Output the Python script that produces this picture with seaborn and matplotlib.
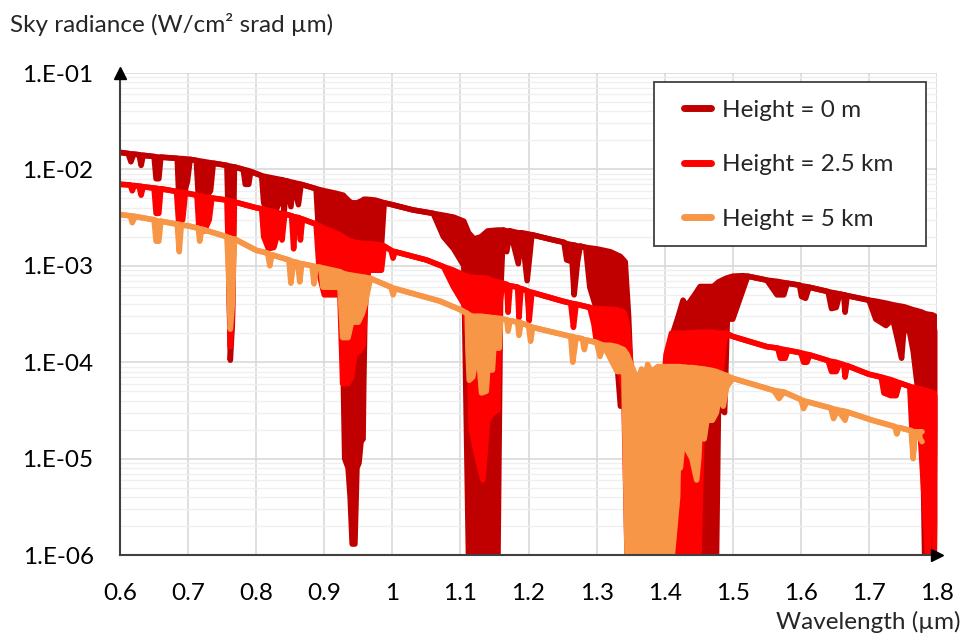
import math
import matplotlib
matplotlib.use("Agg")
import matplotlib.pyplot as plt
import seaborn as sns
from matplotlib.patches import Rectangle
from matplotlib.ticker import FixedLocator, FuncFormatter, LogLocator, NullLocator, NullFormatter

sns.set_style("white")
plt.rcParams['font.family'] = ['Lato', 'DejaVu Sans']

# sky radiance: wavelength (um), upper and lower edge of each trace
h0_wl = [0.600, 0.612, 0.616, 0.620, 0.628, 0.631, 0.634, 0.650, 0.653, 0.657, 0.660, 0.684,
         0.686, 0.694, 0.699, 0.703, 0.712, 0.715, 0.725, 0.733, 0.737, 0.757, 0.759, 0.762,
         0.765, 0.768, 0.781, 0.784, 0.789, 0.792, 0.808, 0.811, 0.818, 0.822, 0.826, 0.834,
         0.838, 0.841, 0.845, 0.851, 0.855, 0.862, 0.866, 0.888, 0.892, 0.900, 0.915, 0.924,
         0.928, 0.930, 0.935, 0.938, 0.941, 0.945, 0.948, 0.951, 0.954, 0.957, 0.958, 0.961,
         0.963, 0.975, 0.984, 0.988,
         1.000, 1.030, 1.060, 1.075, 1.090, 1.105, 1.112, 1.120, 1.130, 1.140, 1.155, 1.159,
         1.163, 1.168, 1.173, 1.185, 1.190, 1.198, 1.205, 1.230, 1.252, 1.256, 1.264, 1.267,
         1.272, 1.276, 1.284, 1.290, 1.300, 1.320, 1.330, 1.335, 1.342, 1.347, 1.352, 1.405,
         1.412, 1.420, 1.427, 1.432, 1.444, 1.452, 1.471, 1.476, 1.479, 1.488, 1.492, 1.500,
         1.515, 1.522, 1.550, 1.565, 1.575, 1.580, 1.598, 1.601, 1.607, 1.612, 1.640, 1.645,
         1.652, 1.657, 1.663, 1.665, 1.668, 1.700, 1.710, 1.725, 1.735, 1.743, 1.748, 1.752,
         1.760, 1.765, 1.772, 1.778, 1.782, 1.786, 1.793, 1.797, 1.800]
h0_top = [1.50e-2, 1.46e-2, 1.45e-2, 1.44e-2, 1.42e-2, 1.41e-2, 1.40e-2, 1.36e-2, 1.35e-2, 1.34e-2, 1.34e-2, 1.30e-2,
          1.30e-2, 1.29e-2, 1.28e-2, 1.27e-2, 1.24e-2, 1.23e-2, 1.20e-2, 1.17e-2, 1.16e-2, 1.10e-2, 1.09e-2, 1.08e-2,
          1.07e-2, 1.06e-2, 1.00e-2, 9.9e-3, 9.7e-3, 9.5e-3, 8.6e-3, 8.5e-3, 8.3e-3, 8.2e-3, 8.1e-3, 7.9e-3,
          7.8e-3, 7.7e-3, 7.6e-3, 7.4e-3, 7.3e-3, 7.1e-3, 7.0e-3, 6.3e-3, 6.2e-3, 6.0e-3, 5.7e-3, 5.5e-3,
          5.4e-3, 5.2e-3, 4.8e-3, 4.6e-3, 4.5e-3, 4.5e-3, 4.5e-3, 4.6e-3, 4.7e-3, 4.8e-3, 4.9e-3, 4.9e-3,
          4.9e-3, 4.8e-3, 4.6e-3, 4.5e-3,
          4.3e-3, 3.8e-3, 3.5e-3, 3.35e-3, 3.2e-3, 2.9e-3, 2.2e-3, 1.9e-3, 2.0e-3, 2.3e-3, 2.35e-3, 2.35e-3,
          2.35e-3, 2.3e-3, 2.3e-3, 2.2e-3, 2.2e-3, 2.15e-3, 2.1e-3, 1.9e-3, 1.75e-3, 1.7e-3, 1.65e-3, 1.65e-3,
          1.6e-3, 1.6e-3, 1.55e-3, 1.53e-3, 1.5e-3, 1.4e-3, 1.3e-3, 1.25e-3, 1.1e-3, 3.0e-4, 4.0e-5, 4.0e-5,
          2.0e-4, 3.0e-4, 4.4e-4, 3.8e-4, 5.0e-4, 6.1e-4, 6.1e-4, 6.5e-4, 6.8e-4, 7.3e-4, 7.5e-4, 7.8e-4,
          7.9e-4, 7.8e-4, 7.1e-4, 6.9e-4, 6.7e-4, 6.6e-4, 6.3e-4, 6.2e-4, 6.1e-4, 6.0e-4, 5.4e-4, 5.3e-4,
          5.2e-4, 5.1e-4, 5.0e-4, 5.0e-4, 4.9e-4, 4.4e-4, 4.3e-4, 4.1e-4, 3.95e-4, 3.85e-4, 3.8e-4, 3.75e-4,
          3.6e-4, 3.5e-4, 3.4e-4, 3.3e-4, 3.2e-4, 3.15e-4, 3.1e-4, 3.0e-4, 2.1e-4]
h0_bot = [1.50e-2, 1.46e-2, 1.20e-2, 1.44e-2, 1.42e-2, 1.10e-2, 1.40e-2, 1.36e-2, 8.0e-3, 8.0e-3, 1.34e-2, 1.30e-2,
          6.0e-3, 5.6e-3, 7.5e-3, 1.27e-2, 1.24e-2, 5.3e-3, 5.0e-3, 6.0e-3, 1.16e-2, 1.10e-2, 3.0e-3, 1.05e-4,
          2.5e-4, 1.06e-2, 1.00e-2, 7.0e-3, 7.0e-3, 9.5e-3, 8.6e-3, 4.5e-3, 3.4e-3, 1.7e-3, 3.4e-3, 4.5e-3,
          7.8e-3, 3.6e-3, 7.6e-3, 4.1e-3, 7.3e-3, 4.3e-3, 7.0e-3, 6.3e-3, 2.0e-3, 8.0e-4, 8.0e-4, 6.0e-4,
          6.5e-5, 1.0e-5, 8.0e-6, 4.0e-6, 1.3e-6, 1.3e-6, 8.0e-6, 9.0e-6, 1.5e-5, 1.6e-5, 6.0e-5, 1.0e-3,
          1.5e-3, 1.5e-3, 1.6e-3, 4.5e-3,
          4.3e-3, 3.8e-3, 3.5e-3, 2.0e-3, 1.5e-3, 1.0e-3, 8e-7, 8e-7, 8e-7, 8e-7, 8e-7, 5.0e-4,
          2.35e-3, 1.4e-3, 2.3e-3, 1.05e-3, 2.2e-3, 7.0e-4, 2.1e-3, 1.9e-3, 1.75e-3, 1.15e-3, 1.1e-3, 5.0e-4,
          1.1e-3, 1.6e-3, 1.55e-3, 6.0e-4, 3.5e-4, 2.0e-4, 1.0e-4, 3.5e-5, 3.5e-5, 8e-7, 8e-7, 8e-7,
          8e-7, 8e-7, 8e-7, 8e-7, 8e-7, 8e-7, 8e-7, 8e-7, 3.5e-5, 3.0e-5, 2.8e-4, 2.8e-4,
          5.6e-4, 7.8e-4, 7.1e-4, 5.0e-4, 5.0e-4, 6.6e-4, 6.3e-4, 4.8e-4, 4.6e-4, 6.0e-4, 5.4e-4, 3.6e-4,
          3.7e-4, 5.1e-4, 5.0e-4, 3.3e-4, 4.9e-4, 4.4e-4, 2.8e-4, 2.4e-4, 2.8e-4, 1.6e-4, 1.1e-4, 2.5e-4,
          2.0e-4, 1.3e-4, 5.0e-5, 5.0e-5, 8e-7, 5.0e-5, 8e-7, 5.0e-5, 8e-7]

h25_wl = [0.600, 0.615, 0.618, 0.621, 0.628, 0.631, 0.634, 0.650, 0.653, 0.657, 0.660, 0.683,
          0.686, 0.692, 0.696, 0.713, 0.716, 0.724, 0.731, 0.735, 0.757, 0.759, 0.762, 0.765,
          0.768, 0.800, 0.808, 0.811, 0.818, 0.826, 0.832, 0.836, 0.838, 0.842, 0.852, 0.855,
          0.858, 0.863, 0.865, 0.868, 0.888, 0.893, 0.900, 0.923, 0.927, 0.935, 0.940, 0.945,
          0.952, 0.957, 0.961, 0.965, 0.984, 0.988, 0.998, 1.001, 1.004, 1.050, 1.075, 1.090,
          1.105, 1.112, 1.116, 1.125, 1.133, 1.140, 1.148, 1.155, 1.158, 1.162, 1.168, 1.170,
          1.173, 1.184, 1.186, 1.189, 1.198, 1.201, 1.205, 1.250, 1.262, 1.266, 1.270, 1.290,
          1.296, 1.300, 1.330, 1.340, 1.345, 1.350, 1.354, 1.398, 1.402, 1.410, 1.430, 1.450,
          1.455, 1.470, 1.480, 1.487, 1.490, 1.500, 1.550, 1.566, 1.570, 1.577, 1.581, 1.600,
          1.604, 1.609, 1.613, 1.640, 1.645, 1.652, 1.657, 1.663, 1.665, 1.668, 1.700, 1.718,
          1.722, 1.732, 1.740, 1.745, 1.760, 1.765, 1.770, 1.775, 1.787, 1.792, 1.798, 1.800]
h25_top = [7.0e-3, 6.9e-3, 6.8e-3, 6.8e-3, 6.7e-3, 6.7e-3, 6.6e-3, 6.4e-3, 6.4e-3, 6.3e-3, 6.3e-3, 5.9e-3,
           5.8e-3, 5.8e-3, 5.7e-3, 5.4e-3, 5.35e-3, 5.2e-3, 5.1e-3, 5.05e-3, 4.8e-3, 4.75e-3, 4.7e-3, 4.65e-3,
           4.6e-3, 4.0e-3, 3.9e-3, 3.85e-3, 3.75e-3, 3.65e-3, 3.55e-3, 3.5e-3, 3.5e-3, 3.45e-3, 3.3e-3, 3.25e-3,
           3.2e-3, 3.15e-3, 3.1e-3, 3.05e-3, 2.7e-3, 2.6e-3, 2.45e-3, 2.1e-3, 2.0e-3, 1.85e-3, 1.8e-3, 1.75e-3,
           1.72e-3, 1.7e-3, 1.7e-3, 1.7e-3, 1.65e-3, 1.6e-3, 1.45e-3, 1.42e-3, 1.4e-3, 1.15e-3, 9.8e-4, 9.0e-4,
           8.0e-4, 7.7e-4, 7.6e-4, 7.5e-4, 7.5e-4, 7.4e-4, 7.0e-4, 6.8e-4, 6.7e-4, 6.6e-4, 6.4e-4, 6.3e-4,
           6.2e-4, 6.0e-4, 5.9e-4, 5.8e-4, 5.5e-4, 5.4e-4, 5.3e-4, 4.3e-4, 4.1e-4, 4.05e-4, 4.0e-4, 3.7e-4,
           3.6e-4, 3.6e-4, 3.5e-4, 3.3e-4, 2.5e-4, 1.0e-4, 3.0e-5, 5.0e-5, 1.2e-4, 2.0e-4, 2.0e-4, 2.05e-4,
           2.05e-4, 2.05e-4, 2.0e-4, 2.0e-4, 2.0e-4, 1.85e-4, 1.45e-4, 1.4e-4, 1.38e-4, 1.35e-4, 1.33e-4, 1.25e-4,
           1.23e-4, 1.21e-4, 1.19e-4, 1.04e-4, 1.02e-4, 1.0e-4, 9.7e-5, 9.4e-5, 9.3e-5, 9.2e-5, 7.5e-5, 7.0e-5,
           6.9e-5, 6.6e-5, 6.3e-5, 6.1e-5, 5.6e-5, 5.5e-5, 5.4e-5, 5.3e-5, 5.0e-5, 4.9e-5, 4.7e-5, 4.6e-5]
h25_bot = [7.0e-3, 6.9e-3, 6.0e-3, 6.8e-3, 6.7e-3, 5.4e-3, 6.6e-3, 6.4e-3, 3.5e-3, 3.5e-3, 6.3e-3, 5.9e-3,
           2.9e-3, 3.0e-3, 5.7e-3, 5.4e-3, 2.4e-3, 2.3e-3, 3.0e-3, 5.05e-3, 4.8e-3, 1.5e-3, 1.45e-4, 3.0e-4,
           4.6e-3, 4.0e-3, 3.9e-3, 2.0e-3, 1.5e-3, 1.55e-3, 2.2e-3, 3.5e-3, 1.85e-3, 3.45e-3, 3.3e-3, 1.5e-3,
           3.2e-3, 3.15e-3, 1.85e-3, 3.05e-3, 2.7e-3, 8.0e-4, 5.0e-4, 5.0e-4, 6.0e-5, 6.0e-5, 7.0e-5, 1.2e-4,
           1.3e-4, 1.5e-4, 4.4e-4, 9.0e-4, 9.0e-4, 1.6e-3, 1.45e-3, 1.2e-3, 1.4e-3, 1.15e-3, 9.8e-4, 6.0e-4,
           4.0e-4, 1.5e-4, 2.0e-5, 1.0e-5, 6.0e-6, 2.5e-5, 3.0e-5, 3.2e-5, 4.0e-4, 6.6e-4, 6.4e-4, 3.3e-4,
           6.2e-4, 6.0e-4, 2.9e-4, 5.8e-4, 5.5e-4, 2.7e-4, 5.3e-4, 4.3e-4, 4.1e-4, 2.3e-4, 4.0e-4, 3.7e-4,
           2.5e-4, 1.6e-4, 1.2e-4, 5.0e-5, 8e-7, 8e-7, 8e-7, 8e-7, 8e-7, 8e-7, 8e-7, 8e-7,
           2.0e-5, 4.0e-5, 5.0e-5, 1.5e-4, 2.0e-4, 1.85e-4, 1.45e-4, 1.4e-4, 1.1e-4, 1.1e-4, 1.33e-4, 1.25e-4,
           1.0e-4, 1.0e-4, 1.19e-4, 1.04e-4, 8.0e-5, 8.0e-5, 9.7e-5, 9.4e-5, 7.0e-5, 9.2e-5, 7.5e-5, 7.0e-5,
           4.8e-5, 4.5e-5, 4.5e-5, 6.1e-5, 5.6e-5, 1.1e-5, 5.0e-5, 2.0e-5, 8e-7, 2.0e-5, 8e-7, 2.0e-5]

h5_wl = [0.600, 0.615, 0.618, 0.622, 0.650, 0.653, 0.657, 0.660, 0.684, 0.687, 0.690, 0.700,
         0.715, 0.717, 0.720, 0.757, 0.759, 0.762, 0.765, 0.768, 0.800, 0.817, 0.820, 0.823,
         0.848, 0.851, 0.855, 0.861, 0.864, 0.867, 0.882, 0.885, 0.888, 0.895, 0.898, 0.923,
         0.927, 0.935, 0.940, 0.950, 0.956, 0.960, 0.964, 0.968, 0.998, 1.001, 1.004, 1.070,
         1.100, 1.110, 1.111, 1.113, 1.118, 1.122, 1.128, 1.131, 1.138, 1.140, 1.147, 1.149,
         1.157, 1.159, 1.162, 1.168, 1.170,
         1.173, 1.184, 1.186, 1.189, 1.200, 1.203, 1.206, 1.262, 1.265, 1.270, 1.279, 1.282,
         1.285, 1.300, 1.305, 1.310, 1.320, 1.330, 1.340, 1.345, 1.352, 1.360, 1.366, 1.370,
         1.375, 1.380, 1.390, 1.410, 1.419, 1.421, 1.423, 1.427, 1.430, 1.434, 1.440, 1.447,
         1.450, 1.452, 1.458, 1.462, 1.470, 1.476, 1.480, 1.486, 1.491, 1.500,
         1.560, 1.568, 1.575, 1.600, 1.604, 1.609, 1.644, 1.648, 1.654, 1.665,
         1.668, 1.705, 1.738, 1.741, 1.744, 1.762, 1.765, 1.768, 1.778]
h5_top = [3.4e-3, 3.3e-3, 3.3e-3, 3.25e-3, 3.0e-3, 2.95e-3, 2.9e-3, 2.9e-3, 2.7e-3, 2.7e-3, 2.65e-3, 2.6e-3,
          2.45e-3, 2.4e-3, 2.4e-3, 2.0e-3, 1.95e-3, 1.95e-3, 1.9e-3, 1.9e-3, 1.45e-3, 1.35e-3, 1.3e-3, 1.3e-3,
          1.15e-3, 1.13e-3, 1.1e-3, 1.08e-3, 1.06e-3, 1.05e-3, 1.0e-3, 9.9e-4, 9.8e-4, 9.6e-4, 9.5e-4, 8.7e-4,
          8.4e-4, 8.1e-4, 8.0e-4, 7.8e-4, 7.7e-4, 7.6e-4, 7.5e-4, 7.4e-4, 6.0e-4, 5.9e-4, 5.8e-4, 4.3e-4,
          3.5e-4, 3.2e-4, 3.15e-4, 3.1e-4, 3.0e-4, 3.0e-4, 3.0e-4, 3.0e-4, 2.95e-4, 2.95e-4, 2.9e-4, 2.9e-4,
          2.85e-4, 2.85e-4, 2.8e-4, 2.75e-4, 2.7e-4,
          2.7e-4, 2.6e-4, 2.6e-4, 2.55e-4, 2.4e-4, 2.35e-4, 2.3e-4, 1.85e-4, 1.85e-4, 1.8e-4, 1.75e-4, 1.7e-4,
          1.7e-4, 1.6e-4, 1.55e-4, 1.5e-4, 1.5e-4, 1.45e-4, 1.35e-4, 1.2e-4, 9.0e-5, 6.5e-5, 8.5e-5, 6.5e-5,
          9.5e-5, 8.0e-5, 9.0e-5, 9.0e-5, 9.0e-5, 9.0e-5, 9.0e-5, 8.9e-5, 8.9e-5, 8.8e-5, 8.8e-5, 8.7e-5,
          8.6e-5, 8.6e-5, 8.5e-5, 8.4e-5, 8.2e-5, 8.0e-5, 7.8e-5, 7.5e-5, 7.3e-5, 6.8e-5,
          5.1e-5, 5.0e-5, 4.9e-5, 4.1e-5, 4.0e-5, 3.9e-5, 3.35e-5, 3.3e-5, 3.2e-5, 3.1e-5,
          3.05e-5, 2.5e-5, 2.15e-5, 2.1e-5, 2.1e-5, 1.95e-5, 1.9e-5, 1.9e-5, 1.9e-5]
h5_bot = [3.4e-3, 3.3e-3, 2.8e-3, 3.25e-3, 3.0e-3, 1.8e-3, 1.8e-3, 2.9e-3, 2.7e-3, 1.4e-3, 2.65e-3, 2.6e-3,
          2.45e-3, 1.8e-3, 2.4e-3, 2.0e-3, 1.0e-3, 2.2e-4, 4.0e-4, 1.9e-3, 1.45e-3, 1.35e-3, 1.0e-3, 1.3e-3,
          1.15e-3, 6.6e-4, 1.1e-3, 1.08e-3, 6.8e-4, 1.05e-3, 1.0e-3, 6.5e-4, 9.8e-4, 9.6e-4, 6.0e-4, 6.0e-4,
          1.8e-4, 1.8e-4, 2.6e-4, 2.6e-4, 3.2e-4, 4.0e-4, 5.5e-4, 7.4e-4, 6.0e-4, 5.0e-4, 5.8e-4, 4.3e-4,
          3.5e-4, 3.2e-4, 1.4e-4, 6.5e-5, 7.0e-5, 1.0e-4, 9.0e-5, 4.8e-5, 5.0e-5, 8.3e-5, 8.3e-5, 1.4e-4,
          1.4e-4, 2.8e-4, 2.8e-4, 2.75e-4, 2.1e-4,
          2.7e-4, 2.6e-4, 1.9e-4, 2.55e-4, 2.4e-4, 1.65e-4, 2.3e-4, 1.85e-4, 1.0e-4, 1.8e-4, 1.75e-4, 1.35e-4,
          1.7e-4, 1.6e-4, 1.15e-4, 1.5e-4, 1.1e-4, 8.0e-5, 8.0e-5, 8e-7, 8e-7, 8e-7, 8e-7, 8e-7,
          8e-7, 8e-7, 8e-7, 8e-7, 4.0e-6, 2.0e-5, 8.0e-6, 1.5e-5, 1.8e-5, 1.2e-5, 1.0e-5, 6.0e-6,
          1.0e-5, 2.0e-5, 1.6e-5, 2.5e-5, 2.5e-5, 3.0e-5, 4.5e-5, 3.5e-5, 5.5e-5, 6.8e-5,
          5.1e-5, 4.2e-5, 4.9e-5, 4.1e-5, 3.3e-5, 3.9e-5, 3.35e-5, 2.6e-5, 3.2e-5, 2.5e-5,
          3.05e-5, 2.5e-5, 2.15e-5, 1.8e-5, 2.1e-5, 1.95e-5, 1.0e-5, 1.9e-5, 1.5e-5]

heights = ['Height = 0 m', 'Height = 2.5 km', 'Height = 5 km']
colors = ['#C00000', '#FF0000', '#F79646']

wl_ticks = [0.6, 0.7, 0.8, 0.9, 1.0, 1.1, 1.2, 1.3, 1.4, 1.5, 1.6, 1.7, 1.8]
wl_labels = ['0.6', '0.7', '0.8', '0.9', '1', '1.1', '1.2', '1.3', '1.4', '1.5', '1.6', '1.7', '1.8']
rad_ticks = [1e-6, 1e-5, 1e-4, 1e-3, 1e-2, 1e-1]

fig = plt.figure(figsize=(9.64, 6.37), dpi=100)
ax = fig.add_axes([0.1245, 0.1287, 0.8475, 0.7567])
ax.set_yscale('log')

series = [(h0_wl, h0_top, h0_bot), (h25_wl, h25_top, h25_bot), (h5_wl, h5_top, h5_bot)]
for i, (wl, top, bot) in enumerate(series):
    z = 3 + i
    ax.fill_between(wl, bot, top, color=colors[i], linewidth=0, zorder=z)
    sns.lineplot(x=wl, y=top, color=colors[i], lw=4, ax=ax, label=heights[i], zorder=z,
                 estimator=None, sort=False, solid_capstyle='round', solid_joinstyle='round')
    sns.lineplot(x=wl, y=bot, color=colors[i], lw=4, ax=ax, zorder=z,
                 estimator=None, sort=False, solid_capstyle='round', solid_joinstyle='round')

ax.set_xlim(0.6, 1.8)
ax.set_ylim(1e-6, 1e-1)
ax.xaxis.set_major_locator(FixedLocator(wl_ticks))
ax.set_xticklabels(wl_labels)
ax.xaxis.set_minor_locator(NullLocator())
ax.yaxis.set_major_locator(FixedLocator(rad_ticks))
ax.yaxis.set_major_formatter(FuncFormatter(lambda v, p: "1.E-%02d" % round(-math.log10(v))))
ax.yaxis.set_minor_locator(LogLocator(base=10, subs=[2, 3, 4, 5, 6, 7, 8, 9]))
ax.yaxis.set_minor_formatter(NullFormatter())
ax.grid(True, which='major', color='#D9D9D9', lw=1.2, zorder=0)
ax.grid(True, which='minor', axis='y', color='#EFEFEF', lw=0.9, zorder=0)
ax.set_axisbelow(True)
ax.tick_params(axis='both', which='both', length=0, labelsize=17.5, colors='black')
ax.tick_params(axis='y', pad=19)
ax.tick_params(axis='x', pad=20)
ax.set_xlabel('')
ax.set_ylabel('')

for s in ['top', 'right']:
    ax.spines[s].set_visible(False)
for s in ['left', 'bottom']:
    ax.spines[s].set_color('#404040')
    ax.spines[s].set_linewidth(1.5)
    ax.spines[s].set_zorder(10)

# axis arrow heads
ax.plot([0], [1], marker='^', color='black', markersize=9, transform=ax.transAxes, clip_on=False, zorder=11)
ax.plot([1], [0], marker='>', color='black', markersize=9, transform=ax.transAxes, clip_on=False, zorder=11)

# legend box
ax.add_patch(Rectangle((0.6536, 0.641), 0.333, 0.340, transform=ax.transAxes, facecolor='white',
                       edgecolor='#404040', lw=1.3, zorder=12))
handles, labels = ax.get_legend_handles_labels()
leg = ax.legend(handles[:3], labels[:3], loc='upper left', bbox_to_anchor=(0.676, 0.970), frameon=False,
                borderpad=0, handlelength=1.1, handletextpad=0.45, labelspacing=1.38, fontsize=17.5)
leg.set_zorder(13)
for line in leg.get_lines():
    line.set_linewidth(5)
    line.set_solid_capstyle('round')

fig.text(10 / 964, 0.9608, 'Sky radiance (W/cm² srad µm)', ha='left', va='center', fontsize=17.5)
fig.text(960 / 964, 0.0235, 'Wavelength (µm)', ha='right', va='center', fontsize=17.5)

fig.savefig('out.png', dpi=100)
